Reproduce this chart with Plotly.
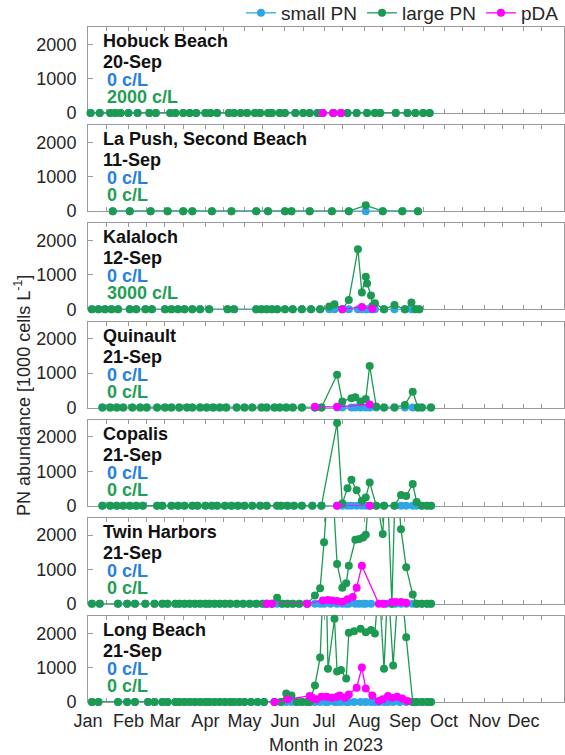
import plotly.graph_objects as go

# ---------------- data ----------------
SITES = ["Hobuck Beach", "La Push, Second Beach", "Kalaloch", "Quinault",
         "Copalis", "Twin Harbors", "Long Beach"]
LAST_DATE = ["20-Sep", "11-Sep", "12-Sep", "21-Sep", "21-Sep", "21-Sep", "21-Sep"]
LAST_SMALL = ["0 c/L", "0 c/L", "0 c/L", "0 c/L", "0 c/L", "0 c/L", "0 c/L"]
LAST_LARGE = ["2000 c/L", "0 c/L", "3000 c/L", "0 c/L", "0 c/L", "0 c/L", "0 c/L"]

MONTHS = ["Jan", "Feb", "Mar", "Apr", "May", "Jun", "Jul", "Aug", "Sep", "Oct", "Nov", "Dec"]

# Hobuck Beach
hob_dates = ["01-03", "01-10", "01-18", "01-22", "01-26", "02-01", "02-08", "02-17", "02-22", "03-05",
             "03-09", "03-15", "03-20", "03-25", "04-01", "04-05", "04-10", "04-19", "04-23", "04-28",
             "05-03", "05-09", "05-13", "05-19", "05-22", "05-28", "06-01", "06-09", "06-15", "06-20",
             "06-26", "06-30", "07-08", "07-14", "07-19", "07-26", "08-03", "08-09", "08-13", "08-25",
             "09-03", "09-09", "09-15", "09-20"]
hob_small = [0, 0, 0, 0, 0, 0, 0, 0, 0, 0, 0, 0, 0, 0, 0, 0, 0, 0, 0, 0, 0, 0,
             0, 0, 0, 0, 0, 0, 0, 0, 0, 0, 0, 0, 0, 0, 0, 0, 0, 0, 0, 0, 0, 0]
hob_large = [0, 0, 0, 0, 0, 0, 0, 0, 0, 0, 0, 0, 0, 0, 0, 0, 0, 0, 0, 0, 0, 0,
             0, 0, 0, 0, 0, 0, 0, 0, 0, 0, 0, 0, 0, 0, 0, 0, 0, 0, 0, 0, 0, 0]
hob_pda_dates = ["06-30", "07-08", "07-14"]
hob_pda = [0, 0, 0]

# La Push, Second Beach
lap_dates = ["01-20", "02-02", "02-18", "03-03", "03-15", "03-22", "04-06", "04-21", "05-10", "05-19",
             "06-01", "06-06", "06-20", "07-07", "07-20", "08-02", "08-15", "08-30", "09-11"]
lap_small = [0, 0, 0, 0, 0, 0, 0, 0, 0, 0, 0, 0, 0, 0, 0, 0, 0, 0, 0]
lap_large = [0, 0, 0, 0, 0, 0, 0, 0, 0, 0, 0, 0, 0, 0, 0, 170, 0, 0, 0]
lap_pda_dates = []
lap_pda = []

# Kalaloch
kal_dates = ["01-04", "01-09", "01-14", "01-19", "01-24", "02-02", "02-07", "02-14", "02-19", "03-01",
             "03-06", "03-11", "03-16", "03-22", "03-28", "04-04", "04-18", "04-23", "05-10", "05-14",
             "05-18", "05-22", "05-26", "06-01", "06-07", "06-14", "06-21", "06-28", "07-05", "07-09",
             "07-15", "07-20", "07-27", "07-30", "08-02", "08-03", "08-06", "08-07", "08-09", "08-16",
             "08-24", "09-01", "09-06", "09-09", "09-12"]
kal_small = [0, 0, 0, 0, 0, 0, 0, 0, 0, 0, 0, 0, 0, 0, 0, 0, 0, 0, 0, 0, 0, 0, 0,
             0, 0, 0, 0, 0, 0, 0, 0, 0, 0, 0, 0, 0, 0, 0, 0, 0, 0, 0, 0, 0, 0]
kal_large = [0, 0, 0, 0, 0, 0, 0, 0, 0, 0, 0, 0, 0, 0, 0, 0, 0, 0, 0, 0, 0, 0, 0,
             0, 0, 0, 0, 0, 80, 145, 0, 270, 1750, 490, 950, 750, 400, 100, 175, 0,
             125, 0, 200, 0, 0]
kal_pda_dates = ["07-15", "07-30", "08-07"]
kal_pda = [0, 70, 20]

# Quinault
qui_dates = ["01-12", "01-18", "01-23", "01-28", "02-04", "02-10", "02-15", "02-23", "03-01", "03-06",
             "03-12", "03-18", "03-22", "03-28", "04-02", "04-07", "04-12", "04-17", "04-25", "05-01",
             "05-07", "05-14", "05-18", "05-24", "05-28", "06-02", "06-07", "06-14", "06-24", "06-29",
             "07-11", "07-15", "07-22", "07-25", "07-29", "08-02", "08-05", "08-10", "08-16", "08-24",
             "09-01", "09-07", "09-11", "09-14", "09-21"]
qui_small = [0, 0, 0, 0, 0, 0, 0, 0, 0, 0, 0, 0, 0, 0, 0, 0, 0, 0, 0, 0, 0, 0, 0,
             0, 0, 0, 0, 0, 0, 0, 0, 0, 0, 0, 0, 0, 0, 0, 0, 0, 0, 0, 0, 0, 0]
qui_large = [0, 0, 0, 0, 0, 0, 0, 0, 0, 0, 0, 0, 0, 0, 0, 0, 0, 0, 0, 0, 0, 0, 0,
             0, 0, 0, 0, 0, 0, 0, 950, 175, 270, 300, 175, 250, 1210, 30, 0, 0,
             75, 460, 0, 0, 0]
qui_pda_dates = ["06-24", "07-11", "08-05"]
qui_pda = [20, 20, 90]

# Copalis
cop_dates = ["01-12", "01-18", "01-23", "01-28", "02-02", "02-07", "02-12", "02-23", "02-27", "03-06",
             "03-11", "03-16", "03-22", "03-26", "04-01", "04-06", "04-10", "04-16", "04-21", "04-26",
             "05-01", "05-07", "05-13", "05-18", "05-26", "05-29", "06-03", "06-08", "06-14", "06-22",
             "06-29", "07-11", "07-15", "07-19", "07-22", "07-26", "07-30", "08-02", "08-05", "08-10",
             "08-16", "08-24", "08-29", "09-02", "09-07", "09-10", "09-14", "09-18", "09-21"]
cop_small = [0, 0, 0, 0, 0, 0, 0, 0, 0, 0, 0, 0, 0, 0, 0, 0, 0, 0, 0, 0, 0, 0, 0, 0, 0,
             0, 0, 0, 0, 0, 0, 0, 0, 0, 0, 0, 0, 0, 0, 0, 0, 0, 0, 0, 0, 0, 0, 0, 0]
cop_large = [0, 0, 0, 0, 0, 0, 0, 0, 0, 0, 0, 0, 0, 0, 0, 0, 0, 0, 0, 0, 0, 0, 0, 0, 0,
             0, 0, 0, 0, 0, 0, 2400, 60, 510, 750, 445, 145, 240, 675, 0, 0, 0, 310, 280,
             630, 110, 0, 0, 0]
cop_pda_dates = ["07-11", "08-05"]
cop_pda = [0, 0]

# Twin Harbors
twi_dates = ["01-04", "01-10", "01-24", "01-31", "02-06", "02-14", "02-21", "02-27", "03-03", "03-09",
             "03-12", "03-16", "03-20", "03-24", "03-28", "04-01", "04-04", "04-08", "04-12", "04-16",
             "04-20", "04-25", "04-30", "05-05", "05-10", "05-15", "05-18", "05-22", "05-26", "05-30",
             "06-03", "06-07", "06-12", "06-18", "06-24", "06-28", "07-01", "07-06", "07-11", "07-15",
             "07-18", "07-20", "07-25", "07-28", "07-31", "08-02", "08-06", "08-15", "08-18", "08-22",
             "08-25", "08-29", "09-02", "09-07", "09-10", "09-14", "09-18", "09-21"]
twi_small = [0, 0, 0, 0, 0, 0, 0, 0, 0, 0, 0, 0, 0, 0, 0, 0, 0, 0, 0, 0, 0, 0, 0, 0, 0, 0, 0, 0, 0,
             0, 0, 0, 0, 0, 0, 0, 0, 0, 0, 0, 0, 0, 0, 0, 0, 0, 0, 0, 0, 0, 0, 0, 0, 0, 0, 0, 0, 0]
twi_large = [0, 0, 0, 0, 0, 0, 0, 0, 0, 0, 0, 0, 0, 0, 0, 0, 0, 0, 0, 0, 0, 0, 0, 0, 0, 0, 0, 0,
             175, 0, 0, 0, 0, 0, 240, 454, 1790, 4500, 1160, 464, 600, 1110, 1865, 1884, 1930,
             2010, 4000, 2030, 4000, 0, 4000, 2170, 1060, 270, 0, 0, 0, 0]
twi_pda_dates = ["05-18", "05-22", "06-18", "06-30", "07-04", "07-07", "07-11", "07-15", "07-19",
                 "07-23", "07-26", "07-30", "08-12", "08-16", "08-22", "08-25", "08-29", "09-02"]
twi_pda = [0, 0, 0, 100, 110, 100, 80, 60, 130, 200, 470, 1110, 0, 0, 50, 50, 50, 30]

# Long Beach
lon_dates = ["01-04", "01-09", "01-24", "01-31", "02-06", "02-16", "02-21", "02-27", "03-03", "03-09",
             "03-12", "03-16", "03-20", "03-24", "03-28", "04-01", "04-04", "04-08", "04-12", "04-16",
             "04-20", "04-23", "04-27", "05-01", "05-06", "05-11", "05-16", "05-24", "05-29", "06-02",
             "06-06", "06-10", "06-14", "06-18", "06-20", "06-24", "06-28", "07-02", "07-04", "07-09",
             "07-11", "07-14", "07-18", "07-20", "07-24", "07-29", "08-02", "08-06", "08-09", "08-12",
             "08-16", "08-19", "08-23", "08-28", "09-02", "09-07", "09-10", "09-14", "09-18", "09-21"]
lon_small = [0, 0, 0, 0, 0, 0, 0, 0, 0, 0, 0, 0, 0, 0, 0, 0, 0, 0, 0, 0, 0, 0, 0, 0, 0, 0, 0, 0, 0, 0,
             0, 0, 0, 0, 0, 0, 0, 0, 0, 0, 0, 0, 0, 0, 0, 0, 0, 0, 0, 0, 0, 0, 0, 0, 0, 0, 0, 0, 0, 0]
lon_large = [0, 0, 0, 0, 0, 0, 0, 0, 0, 0, 0, 0, 0, 0, 0, 0, 0, 0, 0, 0, 0, 0, 0, 0, 0, 0, 0, 0, 0,
             250, 190, 0, 0, 0, 0, 480, 1290, 5000, 970, 2420, 890, 930, 680, 2010, 2060, 2130,
             2030, 2090, 1990, 3500, 970, 3500, 1060, 4000, 1880, 0, 0, 0, 0, 0]
lon_pda_dates = ["05-24", "06-03", "06-20", "06-22", "06-25", "06-29", "07-03", "07-07", "07-11",
                 "07-13", "07-17", "07-20", "07-26", "07-30", "08-02", "08-07", "08-12", "08-15",
                 "08-19", "08-22", "08-26", "08-30", "09-03"]
lon_pda = [0, 80, 175, 125, 80, 155, 155, 125, 155, 190, 125, 220, 415, 1000, 390, 190, 30, 80,
           175, 125, 155, 100, 30]

DATA = [
    (hob_dates, hob_small, hob_large, hob_pda_dates, hob_pda),
    (lap_dates, lap_small, lap_large, lap_pda_dates, lap_pda),
    (kal_dates, kal_small, kal_large, kal_pda_dates, kal_pda),
    (qui_dates, qui_small, qui_large, qui_pda_dates, qui_pda),
    (cop_dates, cop_small, cop_large, cop_pda_dates, cop_pda),
    (twi_dates, twi_small, twi_large, twi_pda_dates, twi_pda),
    (lon_dates, lon_small, lon_large, lon_pda_dates, lon_pda),
]

# ---------------- style ----------------
YEAR = "2023"
YMAX = 2500
C_SMALL = "#2ea6e6"
C_LARGE = "#1c9a52"
C_PDA = "#ff00ff"
C_TXT_SMALL = "#2580e0"
C_TXT_LARGE = "#1f9e55"
AXC = "#9a9a9a"
FONT = "Liberation Sans, Arial, Helvetica, sans-serif"

# the page's body margin is removed by a small post script, so the figure sits at (0, 0)
W, H = 565, 755
# screen positions of the plotting area
S_LEFT, S_RIGHT, S_TOP, S_BOTTOM = 88, 564, 27, 702
ML = S_LEFT
MR = W - S_RIGHT
MT = S_TOP
MB = H - S_BOTTOM
PANEL_H = 86
PW = W - ML - MR
plot_h = H - MT - MB
gap = (plot_h - 7 * PANEL_H) / 6


def px_x(sx):
    return (sx - S_LEFT) / PW


def px_y(sy):
    return (S_BOTTOM - sy) / plot_h


def full(ds):
    return [YEAR + "-" + d for d in ds]


def masked(vals):
    return [v if v <= YMAX else None for v in vals]


fig = go.Figure()

month_vals = [f"{YEAR}-{m + 1:02d}-01" for m in range(12)]
mid_vals = [f"{YEAR}-{m + 1:02d}-15" for m in range(12)]

layout = dict(
    width=W, height=H,
    margin=dict(l=ML, r=MR, t=MT, b=MB, autoexpand=False),
    plot_bgcolor="white", paper_bgcolor="white",
    font=dict(family=FONT, size=18, color="#262626"),
    showlegend=True,
    legend=dict(orientation="h", x=1.0, xanchor="right", y=px_y(13), yanchor="middle",
                font=dict(size=19), bgcolor="rgba(0,0,0,0)", itemwidth=30,
                tracegroupgap=0),
)

annotations = []
for k in range(7):
    n = k + 1
    xa = "x" if n == 1 else f"x{n}"
    ya = "y" if n == 1 else f"y{n}"
    top = k * (PANEL_H + gap)
    d0 = 1 - (top + PANEL_H) / plot_h
    d1 = 1 - top / plot_h

    dates, small, large, pdates, pda = DATA[k]
    for vals, col, dts in [(small, C_SMALL, dates), (large, C_LARGE, dates), (pda, C_PDA, pdates)]:
        if len(vals) == 0:
            continue
        fig.add_trace(go.Scatter(x=full(dts), y=vals, mode="lines", xaxis=xa, yaxis=ya,
                                 line=dict(color=col, width=1.3), showlegend=False,
                                 hoverinfo="skip"))
        fig.add_trace(go.Scatter(x=full(dts), y=masked(vals), mode="markers", xaxis=xa, yaxis=ya,
                                 marker=dict(color=col, size=8), cliponaxis=False,
                                 showlegend=False))

    last = (k == 6)
    layout["xaxis" if n == 1 else f"xaxis{n}"] = dict(
        domain=[0, 1], anchor=ya, type="date",
        range=[f"{YEAR}-01-01", "2024-01-01"],
        tickvals=month_vals, ticktext=MONTHS, showticklabels=last,
        ticks="inside", ticklen=4, tickcolor=AXC, showline=True, linecolor=AXC,
        linewidth=1, mirror="ticks", showgrid=False, zeroline=False,
        minor=dict(tickvals=mid_vals, ticks="inside", ticklen=4, tickcolor=AXC, showgrid=False),
        layer="below traces", tickfont=dict(size=18), ticklabelstandoff=2,
    )
    layout["yaxis" if n == 1 else f"yaxis{n}"] = dict(
        domain=[d0, d1], anchor=xa, range=[0, YMAX],
        tickvals=[0, 1000, 2000], ticks="inside", ticklen=5, tickcolor=AXC,
        showline=True, linecolor=AXC, linewidth=1, mirror=True,
        showgrid=False, zeroline=False, layer="below traces",
        tickfont=dict(size=18), ticklabelstandoff=7,
    )
    layout[f"yaxis{n + 7}"] = dict(
        overlaying=ya, anchor=xa, side="right", range=[0, YMAX],
        tickvals=[0, 1000, 2000], ticks="inside", ticklen=4, tickcolor=C_PDA,
        showticklabels=False, showline=False, showgrid=False, zeroline=False,
    )

    xref = f"{xa} domain"
    yref = f"{ya} domain"
    rows = [(SITES[k], "#111111", 0.028, 14), (LAST_DATE[k], "#111111", 0.028, 35),
            (LAST_SMALL[k], C_TXT_SMALL, 0.036, 53), (LAST_LARGE[k], C_TXT_LARGE, 0.036, 70)]
    for txt, col, xx, off in rows:
        annotations.append(dict(text=f"<b>{txt}</b>", x=xx, y=1 - off / PANEL_H,
                                xref=xref, yref=yref, xanchor="left", yanchor="middle",
                                showarrow=False, font=dict(size=18, color=col)))

# legend entries
for name, col in [("small PN", C_SMALL), ("large PN", C_LARGE), ("pDA", C_PDA)]:
    fig.add_trace(go.Scatter(x=[None], y=[None], mode="lines+markers", name=name,
                             line=dict(color=col, width=1.3), marker=dict(color=col, size=8)))

annotations.append(dict(text="PN abundance [1000 cells L<sup>-1</sup>]", textangle=-90,
                        x=px_x(22), y=px_y(396), xref="paper", yref="paper",
                        xanchor="center", yanchor="middle", showarrow=False,
                        font=dict(size=18, color="#262626")))
annotations.append(dict(text="Month in 2023", x=px_x(326), y=px_y(745),
                        xref="paper", yref="paper",
                        xanchor="center", yanchor="middle", showarrow=False,
                        font=dict(size=18, color="#262626")))

layout["annotations"] = annotations
fig.update_layout(**layout)
fig.write_html("out.html", config={"displayModeBar": False},
               post_script="document.body.style.margin='0';document.body.style.overflow='hidden';")
